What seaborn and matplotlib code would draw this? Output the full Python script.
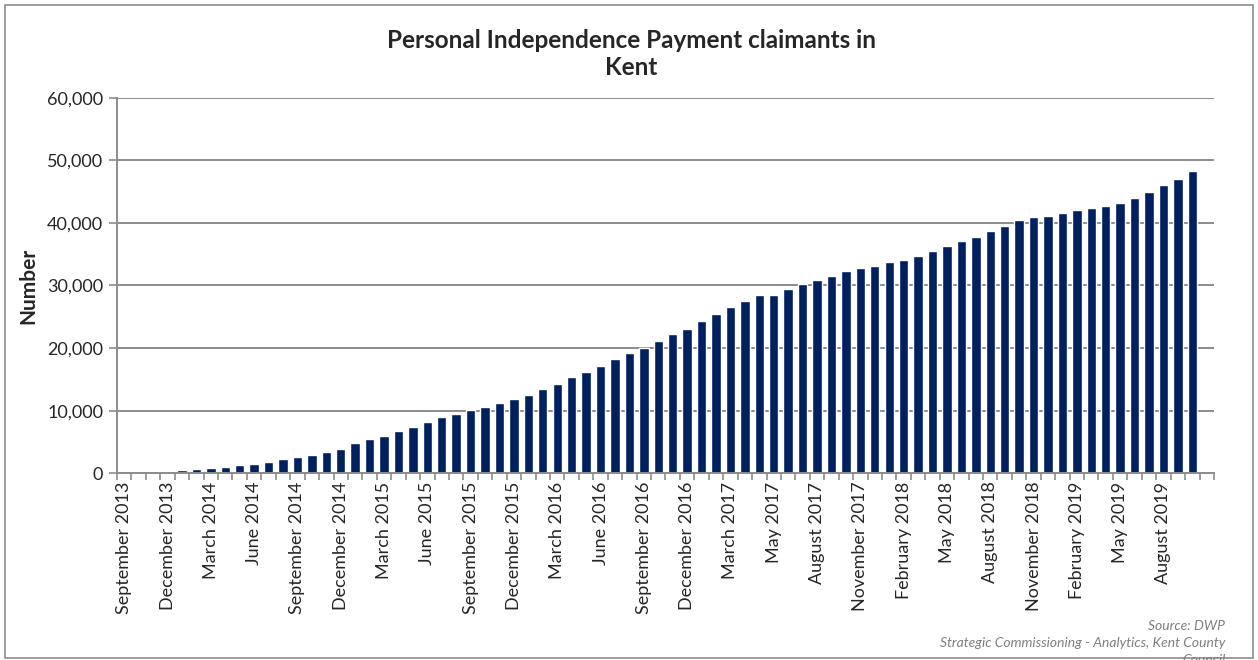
import matplotlib
matplotlib.use('Agg')
import matplotlib.pyplot as plt
from matplotlib.patches import Rectangle
from matplotlib.ticker import FuncFormatter
import seaborn as sns
import pandas as pd
import numpy as np

# Monthly claimant counts, September 2013 onwards (one month repeated in spring 2017)
claimants = [80, 200, 300, 430, 540, 650, 810, 970, 1240, 1400,
             1730, 2210, 2530, 2900, 3390, 3920, 4790, 5430, 6020, 6670,
             7310, 8110, 8980, 9520, 10050, 10560, 11270, 11800, 12550, 13400,
             14250, 15310, 16200, 17170, 18280, 19240, 20030, 21200, 22200, 23110,
             24280, 25440, 26550, 27510, 28420, 28420, 29380, 30280, 30800, 31500,
             32260, 32800, 33130, 33670, 34090, 34680, 35430, 36230, 37030, 37760,
             38620, 39520, 40380, 40910, 41070, 41500, 42070, 42340, 42710, 43250,
             43940, 45010, 46070, 47030, 48210]

# labels shown on every third bar
tick_labels = ['September 2013', 'December 2013', 'March 2014', 'June 2014',
               'September 2014', 'December 2014', 'March 2015', 'June 2015',
               'September 2015', 'December 2015', 'March 2016', 'June 2016',
               'September 2016', 'December 2016', 'March 2017', 'May 2017',
               'August 2017', 'November 2017', 'February 2018', 'May 2018',
               'August 2018', 'November 2018', 'February 2019', 'May 2019',
               'August 2019']

n_slots = len(claimants) + 1  # one empty slot at the end of the axis

df = pd.DataFrame({'month': range(len(claimants)), 'claimants': claimants})

sns.set_style('white')
plt.rcParams['font.family'] = ['Lato', 'DejaVu Sans']

fig = plt.figure(figsize=(12.58, 6.6), dpi=100)
ax = fig.add_axes([0.093, 0.283, 0.872, 0.569])

sns.barplot(data=df, x='month', y='claimants', color='#002060', width=0.65,
            saturation=1, ax=ax)

ax.set_xlim(-0.5, n_slots - 0.5)
ax.set_ylim(0, 60000)
ax.set_yticks(np.arange(0, 60001, 10000))
ax.yaxis.set_major_formatter(FuncFormatter(lambda v, p: f'{int(v):,}'))
ax.grid(axis='y', color='#8c8c8c', linewidth=1.4)
ax.set_axisbelow(True)

ax.set_xticks(np.arange(0, 3 * len(tick_labels), 3))
ax.set_xticklabels(tick_labels, rotation=90)
ax.set_xticks(np.arange(-0.5, n_slots, 1), minor=True)
ax.tick_params(axis='x', which='major', length=0, pad=6, labelsize=13)
ax.tick_params(axis='x', which='minor', length=5, color='#8c8c8c', width=1.2, direction='out')
ax.tick_params(axis='y', length=6, color='#8c8c8c', width=1.2, direction='out', labelsize=13, pad=4)
ax.tick_params(bottom=True, left=True)
ax.xaxis.set_tick_params(which='minor', bottom=True)

for side in ['top', 'right']:
    ax.spines[side].set_visible(False)
for side in ['left', 'bottom']:
    ax.spines[side].set_color('#8c8c8c')
    ax.spines[side].set_linewidth(1.4)

ax.set_xlabel('')
ax.set_ylabel('Number', fontsize=15, fontweight='bold', labelpad=6)

fig.text(0.502, 0.918, 'Personal Independence Payment claimants in\nKent',
         ha='center', va='center', fontsize=17.5, fontweight='bold', linespacing=1.2)

fig.text(0.974, 0.051, 'Source: DWP', ha='right', va='center',
         fontsize=10, style='italic', color='#7f7f7f')
fig.text(0.974, 0.026, 'Strategic Commissioning - Analytics, Kent County', ha='right',
         va='center', fontsize=10, style='italic', color='#7f7f7f')
fig.text(0.974, 0.0, 'Council', ha='right', va='center',
         fontsize=10, style='italic', color='#7f7f7f')

# chart area border
fig.patches.append(Rectangle((0.004, 0.003), 0.992, 0.99, transform=fig.transFigure,
                             fill=False, edgecolor='#8c8c8c', linewidth=1.2))

fig.savefig('out.png', dpi=100)
